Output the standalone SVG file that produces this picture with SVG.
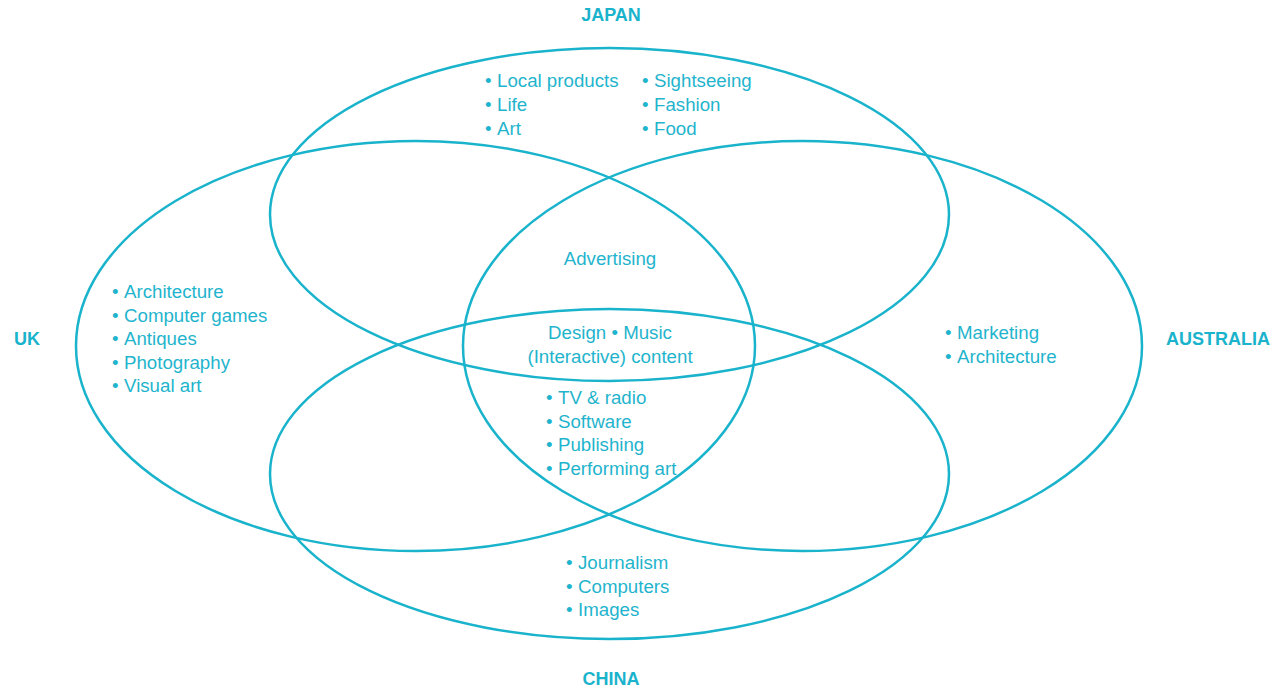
<svg xmlns="http://www.w3.org/2000/svg" width="1283" height="688" viewBox="0 0 1283 688">
<style>
.c{fill:none;stroke:#1ab3cc;stroke-width:2.5}
.t{font-family:"Liberation Sans",Arial,sans-serif;font-size:18.7px;fill:#1fb4cd}
.b{font-family:"Liberation Sans",Arial,sans-serif;font-size:18px;font-weight:bold;fill:#1ab3cc;text-anchor:middle}
.m{text-anchor:middle}
</style>
<rect width="1283" height="688" fill="#fff"/>
<g id="connectors"></g>
<g id="japan">
<ellipse class="c" cx="609.5" cy="214.5" rx="339.5" ry="166.5"/>
<text class="b" x="611" y="21">JAPAN</text>
<text class="t" y="87"><tspan x="485">•</tspan><tspan x="497">Local products</tspan></text>
<text class="t" y="111"><tspan x="485">•</tspan><tspan x="497">Life</tspan></text>
<text class="t" y="135"><tspan x="485">•</tspan><tspan x="497">Art</tspan></text>
<text class="t" y="87"><tspan x="642">•</tspan><tspan x="654">Sightseeing</tspan></text>
<text class="t" y="111"><tspan x="642">•</tspan><tspan x="654">Fashion</tspan></text>
<text class="t" y="135"><tspan x="642">•</tspan><tspan x="654">Food</tspan></text>
</g>
<g id="uk">
<ellipse class="c" cx="415.5" cy="346" rx="339.5" ry="205"/>
<text class="b" x="27" y="345">UK</text>
<text class="t" y="298"><tspan x="112">•</tspan><tspan x="124">Architecture</tspan></text>
<text class="t" y="322"><tspan x="112">•</tspan><tspan x="124">Computer games</tspan></text>
<text class="t" y="345"><tspan x="112">•</tspan><tspan x="124">Antiques</tspan></text>
<text class="t" y="369"><tspan x="112">•</tspan><tspan x="124">Photography</tspan></text>
<text class="t" y="392"><tspan x="112">•</tspan><tspan x="124">Visual art</tspan></text>
</g>
<g id="australia">
<ellipse class="c" cx="802.5" cy="346" rx="339.5" ry="205"/>
<text class="b" x="1218" y="345">AUSTRALIA</text>
<text class="t" y="339"><tspan x="945">•</tspan><tspan x="957">Marketing</tspan></text>
<text class="t" y="363"><tspan x="945">•</tspan><tspan x="957">Architecture</tspan></text>
</g>
<g id="china">
<ellipse class="c" cx="609.5" cy="474" rx="339.5" ry="165"/>
<text class="b" x="611" y="685">CHINA</text>
<text class="t" y="569"><tspan x="566">•</tspan><tspan x="578">Journalism</tspan></text>
<text class="t" y="593"><tspan x="566">•</tspan><tspan x="578">Computers</tspan></text>
<text class="t" y="616"><tspan x="566">•</tspan><tspan x="578">Images</tspan></text>
</g>
<g id="center">
<text class="t m" x="610" y="265">Advertising</text>
<text class="t m" x="610" y="339">Design • Music</text>
<text class="t m" x="610" y="363">(Interactive) content</text>
<text class="t" y="404"><tspan x="546">•</tspan><tspan x="558">TV &amp; radio</tspan></text>
<text class="t" y="428"><tspan x="546">•</tspan><tspan x="558">Software</tspan></text>
<text class="t" y="451"><tspan x="546">•</tspan><tspan x="558">Publishing</tspan></text>
<text class="t" y="475"><tspan x="546">•</tspan><tspan x="558">Performing art</tspan></text>
</g>
</svg>
